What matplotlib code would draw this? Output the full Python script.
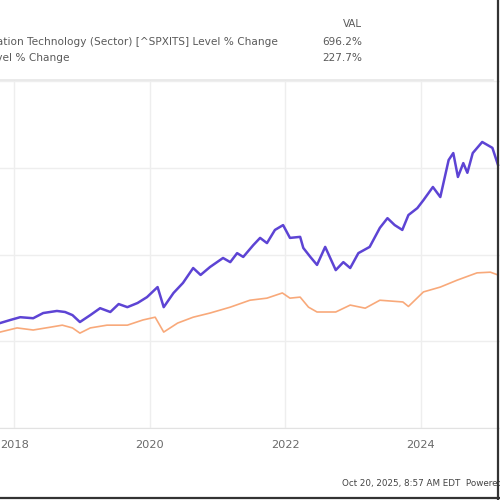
import matplotlib
matplotlib.use("Agg")
import matplotlib.pyplot as plt
import matplotlib.dates as mdates
from matplotlib.lines import Line2D
import pandas as pd

# level % change
tech_dates = ["2017-10-15", "2017-12-10", "2018-02-01", "2018-04-12", "2018-06-05", "2018-08-18",
              "2018-10-01", "2018-11-10", "2018-12-20", "2019-02-14", "2019-04-08", "2019-06-02",
              "2019-07-17", "2019-09-02", "2019-10-27", "2019-12-17", "2020-02-12", "2020-03-16",
              "2020-05-08", "2020-06-28", "2020-08-22", "2020-10-01", "2020-11-21", "2021-01-30",
              "2021-03-10", "2021-04-16", "2021-05-19", "2021-07-12", "2021-08-18", "2021-09-24",
              "2021-11-06", "2021-12-20", "2022-01-26", "2022-03-22", "2022-04-08", "2022-05-16",
              "2022-06-21", "2022-08-04", "2022-09-30", "2022-11-10", "2022-12-17", "2023-01-30",
              "2023-04-01", "2023-05-26", "2023-07-06", "2023-08-14", "2023-09-24", "2023-10-27",
              "2023-12-14", "2024-01-16", "2024-03-07", "2024-04-16", "2024-05-31", "2024-06-25",
              "2024-07-20", "2024-08-18", "2024-09-09", "2024-10-08", "2024-11-28", "2025-01-22",
              "2025-02-21"]
tech_pct = [52, 61, 69, 66, 81, 87,
            84, 75, 55, 75, 95, 84,
            107, 98, 110, 127, 156, 98,
            139, 168, 211, 191, 214, 240,
            228, 254, 243, 277, 298, 283,
            321, 335, 298, 301, 269, 243,
            220, 272, 205, 228, 211, 254,
            272, 327, 355, 335, 321, 364,
            384, 407, 445, 416, 523, 543,
            474, 514, 486, 543, 575, 558,
            509]

spx_dates = ["2017-10-15", "2018-01-15", "2018-04-12", "2018-07-12", "2018-09-16", "2018-11-10",
             "2018-12-20", "2019-02-14", "2019-05-15", "2019-09-02", "2019-11-25", "2020-01-30",
             "2020-03-16", "2020-05-30", "2020-08-22", "2020-11-21", "2021-03-10", "2021-06-24",
             "2021-09-24", "2021-12-16", "2022-01-26", "2022-03-22", "2022-05-06", "2022-06-21",
             "2022-09-30", "2022-12-17", "2023-03-08", "2023-05-26", "2023-09-27", "2023-10-27",
             "2024-01-16", "2024-04-16", "2024-07-16", "2024-10-31", "2025-01-11", "2025-02-21"]
spx_pct = [26, 38, 32, 40, 46, 38,
           23, 38, 46, 46, 61, 69,
           26, 52, 69, 81, 98, 118,
           124, 139, 124, 127, 98, 84,
           84, 104, 95, 118, 113, 100,
           142, 156, 176, 197, 199, 191]

tech_label = "S&P 500 Information Technology (Sector) [^SPXITS] Level % Change"
spx_label = "S&P 500 Level % Change"
tech_val = "696.2%"
spx_val = "227.7%"
year_ticks = ["2018-01-01", "2020-01-01", "2022-01-01", "2024-01-01"]
y_grid = [-250, 0, 250, 500, 750]

purple = "#4b2fd0"
orange = "#f8a06c"
txt = "#5a5a5a"

fig = plt.figure(figsize=(5, 5), dpi=100)
ax = fig.add_axes([0, 0.144, 1.0, 0.696])

ax.plot(pd.to_datetime(spx_dates), spx_pct, color=orange, lw=1.2, alpha=0.9)
ax.plot(pd.to_datetime(tech_dates), tech_pct, color=purple, lw=1.8, alpha=0.9)

ax.set_xlim(pd.Timestamp("2017-10-15"), pd.Timestamp("2025-03-04"))
ax.set_ylim(-251, 754)
ax.set_yticks(y_grid)
ax.set_xticks(pd.to_datetime(year_ticks))
ax.xaxis.set_major_formatter(mdates.DateFormatter("%Y"))
ax.grid(True, color="#eeeeee", lw=1.0)
ax.tick_params(axis="y", left=False, labelleft=False)
ax.tick_params(axis="x", length=0, pad=9, labelsize=8.2, labelcolor="#6a6a6a")
for s in ["top", "right", "left"]:
    ax.spines[s].set_visible(False)
ax.spines["bottom"].set_color("#e2e2e2")

# header
fig.text(362 / 500, 1 - 24 / 500, "VAL", ha="right", va="center", fontsize=7.4, color=txt)
fig.text(278 / 500, 1 - 42 / 500, tech_label, ha="right", va="center", fontsize=7.6, color=txt)
fig.text(70 / 500, 1 - 58 / 500, spx_label, ha="right", va="center", fontsize=7.6, color=txt)
fig.text(362 / 500, 1 - 42 / 500, tech_val, ha="right", va="center", fontsize=7.6, color=txt)
fig.text(362 / 500, 1 - 58 / 500, spx_val, ha="right", va="center", fontsize=7.6, color=txt)
fig.add_artist(Line2D([0, 493 / 500], [1 - 80 / 500] * 2, color="#e6e6e6", lw=1.2))

# footer
fig.text(342 / 500, 1 - 484 / 500, "Oct 20, 2025, 8:57 AM EDT  Powered by YCHARTS",
         ha="left", va="center", fontsize=6.3, color="#444444")

# screenshot frame
fig.add_artist(Line2D([498 / 500] * 2, [0, 1], color="#333333", lw=1.6))
fig.add_artist(Line2D([0, 1], [2 / 500] * 2, color="#333333", lw=1.6))

fig.savefig("out.png", dpi=100)
